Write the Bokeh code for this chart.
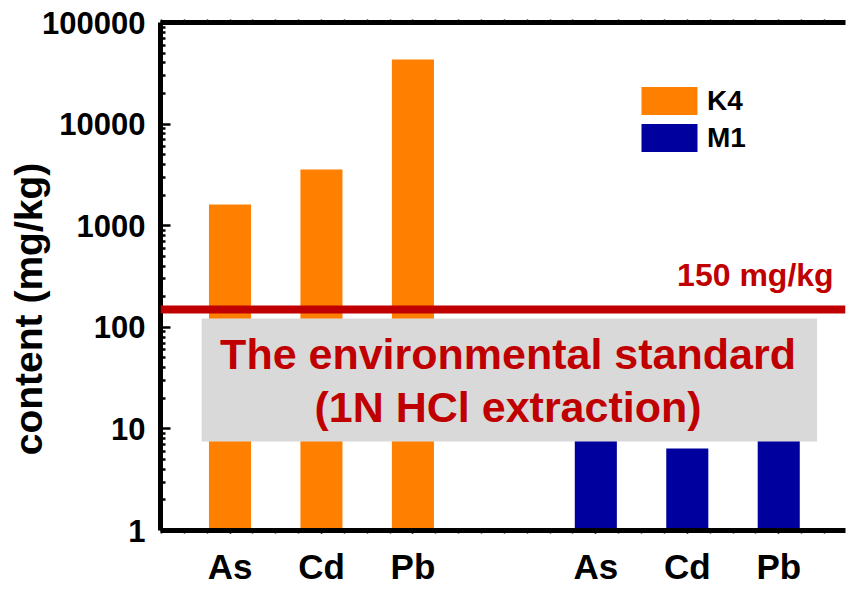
import numpy as np
from bokeh.plotting import figure
from bokeh.models import (FixedTicker, LinearAxis, Span, BoxAnnotation, Label,
                          Legend, LegendItem, NumeralTickFormatter, ColumnDataSource)
from bokeh.embed import file_html
from bokeh.resources import INLINE

# ---- data ----
elements = ["As", "Cd", "Pb"]
samples = ["K4", "M1"]
k4_values = [1620, 3570, 43200]
m1_values = [25, 6.4, 35]
standard_value = 150
y_ticks = [1, 10, 100, 1000, 10000, 100000]
sample_colors = ["#FF8000", "#00009E"]
y_title = "content (mg/kg)"
note_lines = ["The environmental standard", "(1N HCl extraction)"]

FONT = "Liberation Sans"
RED = "#C00000"

p = figure(width=848, height=590, x_range=(0.24, 7.73), y_range=(1, 100000),
           y_axis_type="log", output_backend="svg", toolbar_location=None,
           min_border_left=160, min_border_right=3, min_border_top=22, min_border_bottom=60)
p.outline_line_color = None
p.xgrid.grid_line_color = None
p.ygrid.grid_line_color = None
p.background_fill_color = "white"

# bars
renderers = []
for g, (name, vals, col) in enumerate(zip(samples, [k4_values, m1_values], sample_colors)):
    xs = [g * 4 + i + 1 for i in range(len(elements))]
    src = ColumnDataSource(dict(x=xs, top=vals, el=elements))
    r = p.vbar(x="x", top="top", bottom=1, width=0.46, source=src,
               fill_color=col, line_color=None)
    renderers.append(r)

# x axis
label_ticks = [g * 4 + i + 1 for g in range(len(samples)) for i in range(len(elements))]
minor_x = list(np.arange(0.25, 7.75, 0.25))
xa = p.xaxis[0]
xa.ticker = FixedTicker(ticks=label_ticks, minor_ticks=minor_x)
xa.major_label_overrides = {t: elements[k % 3] for k, t in enumerate(label_ticks)}
xa.axis_line_width = 5
xa.major_tick_in = 0
xa.major_tick_out = 3
xa.minor_tick_in = 0
xa.minor_tick_out = 3
xa.major_tick_line_width = 1.5
xa.minor_tick_line_width = 1.5
xa.major_label_text_font = FONT
xa.major_label_text_font_style = "bold"
xa.major_label_text_font_size = "35px"
xa.major_label_text_color = "black"
xa.major_label_standoff = 13

# y axis
minor_y = [m * 10 ** e for e in range(5) for m in range(2, 10)]
ya = p.yaxis[0]
ya.ticker = FixedTicker(ticks=y_ticks, minor_ticks=minor_y)
ya.formatter = NumeralTickFormatter(format="0")
ya.axis_line_width = 5
ya.major_tick_in = 10
ya.major_tick_out = 0
ya.minor_tick_in = 5
ya.minor_tick_out = 0
ya.major_tick_line_width = 2.5
ya.minor_tick_line_width = 2.5
ya.major_label_text_font = FONT
ya.major_label_text_font_style = "bold"
ya.major_label_text_font_size = "31px"
ya.major_label_text_color = "black"
ya.major_label_standoff = 15
# trailing no-break spaces shift the centred title downwards, as in the reference
ya.axis_label = y_title + "\u00a0" * 6
ya.axis_label_text_font = FONT
ya.axis_label_text_font_style = "bold"
ya.axis_label_text_font_size = "39px"
ya.axis_label_text_color = "black"
ya.axis_label_standoff = -11

# top axis (line with small ticks, no labels)
top = LinearAxis(ticker=FixedTicker(ticks=[], minor_ticks=minor_x),
                 axis_line_width=5, minor_tick_in=0, minor_tick_out=3,
                 minor_tick_line_width=1.5, major_label_text_font_size="0px")
p.add_layout(top, "above")

# standard line
p.add_layout(Span(location=standard_value, dimension="width", line_color=RED, line_width=8))

# grey box
p.add_layout(BoxAnnotation(left=0.69, right=7.42, bottom=7.5, top=122,
                           fill_color="#D9D9D9", fill_alpha=1.0, line_color=None))

# texts
for txt, yv in zip(note_lines, [54, 16.5]):
    p.add_layout(Label(x=4.04, y=yv, text=txt, text_align="center", text_baseline="alphabetic",
                       text_font=FONT, text_font_style="bold", text_font_size="43px",
                       text_color=RED))
p.add_layout(Label(x=7.6, y=330, text=f"{standard_value} mg/kg", text_align="right",
                   text_baseline="alphabetic", text_font=FONT, text_font_style="bold",
                   text_font_size="32px", text_color=RED))

# legend
legend = Legend(items=[LegendItem(label=s, renderers=[r]) for s, r in zip(samples, renderers)],
                location=(474, 375), glyph_width=70, glyph_height=35, spacing=2,
                padding=0, margin=0, label_standoff=3, label_height=35,
                label_text_font=FONT, label_text_font_style="bold", label_text_font_size="28px",
                label_text_color="black",
                border_line_color=None, background_fill_alpha=0)
p.add_layout(legend)

open("out.html", "w").write(file_html(p, INLINE))
